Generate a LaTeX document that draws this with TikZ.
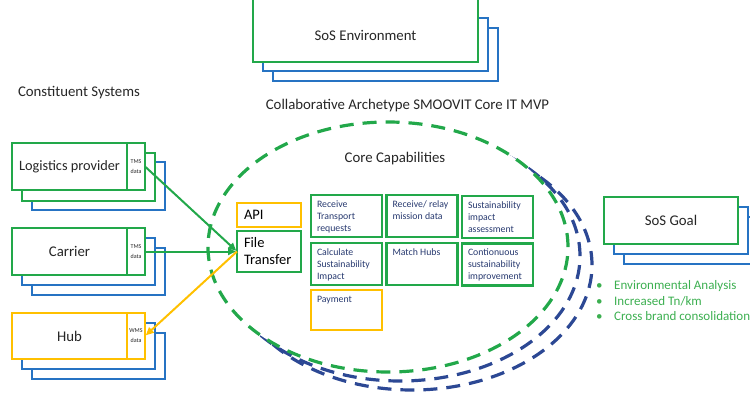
\documentclass[tikz,border=0pt]{standalone}
\usepackage{fontspec}
\setmainfont{Carlito}
\usetikzlibrary{arrows.meta}

\definecolor{sgreen}{RGB}{34,168,74}
\definecolor{sblue}{RGB}{38,115,195}
\definecolor{snavy}{RGB}{44,72,148}
\definecolor{syellow}{RGB}{255,192,0}
\definecolor{stext}{RGB}{38,38,38}
\definecolor{ctext}{RGB}{40,58,112}
\definecolor{bgreen}{RGB}{60,175,80}

% capability cell: fixed-size box, text set from the top left
\newcommand{\capcell}[2]{\parbox[c][#1][t]{71pt}{\fontsize{9.8}{12}\selectfont\parindent=0pt\leftskip=6pt\rightskip=0pt plus 1fil\rule{0pt}{12pt}#2}}

\begin{document}
\begin{tikzpicture}[x=1pt,y=-1pt,
  frame/.style={draw, fill=white, line width=2.6pt, inner sep=0pt, outer sep=0pt,
    anchor=north west, text=stext},
  bigtext/.style={font=\fontsize{14.8}{17}\selectfont},
  datatext/.style={font=\fontsize{6}{10}\selectfont, align=center},
  title/.style={inner sep=0pt, text=stext, font=\fontsize{14.8}{17}\selectfont},
  ringline/.style={line width=3.2pt, dash pattern=on 14pt off 9pt},
  flow/.style={line width=2pt, -{Triangle[length=8pt,width=7pt]}, shorten >=1pt},
  capbox/.style={draw, line width=2.4pt, inner sep=0pt, outer sep=0pt, anchor=north west,
    text=ctext},
  goaltext/.style={inner sep=0pt, anchor=base west, text=bgreen,
    font=\fontsize{13}{15}\selectfont},
]
\useasboundingbox (0,0) rectangle (750,392);
\clip (0,0) rectangle (750,392);

% ---------- SoS Environment stack ----------
\node[frame, draw=sblue, minimum width=225, minimum height=53] (env3) at (273,28) {};
\node[frame, draw=sblue, minimum width=225, minimum height=53] (env2) at (263,18) {};
\node[frame, draw=sgreen, minimum width=225, minimum height=66] (env) at (253,-4) {};
\node[title] (envt) at (365.5,35) {SoS Environment};

% ---------- SoS Goal stack ----------
\node[frame, draw=sblue, minimum width=134, minimum height=47] (goal3) at (624,217) {};
\node[frame, draw=sblue, minimum width=134, minimum height=47] (goal2) at (614,207) {};
\node[frame, draw=sgreen, minimum width=134, minimum height=47, bigtext] (goal) at (604,197) {SoS Goal};

% goal bullets
\node[goaltext] (g1) at (596,289) {\makebox[18pt][l]{\textbullet}Environmental Analysis};
\node[goaltext] (g2) at (596,305) {\makebox[18pt][l]{\textbullet}Increased Tn/km};
\node[goaltext] (g3) at (596,320.5) {\makebox[18pt][l]{\textbullet}Cross brand consolidation};

% ---------- Constituent systems ----------
\node[title] (cs) at (79,93) {Constituent Systems};

% Logistics provider
\node[frame, draw=sblue, minimum width=133, minimum height=48] (lp3) at (32,162) {};
\node[frame, draw=sgreen, minimum width=133, minimum height=48] (lp2) at (22,153) {};
\node[frame, draw=sgreen, minimum width=115, minimum height=47, font=\fontsize{14.3}{17}\selectfont] (lp) at (12,143) {Logistics provider};
\node[frame, draw=sgreen, minimum width=18, minimum height=47, datatext] (lpd) at (127,143) {TMS\\data};

% Carrier
\node[frame, draw=sblue, minimum width=133, minimum height=47] (ca3) at (32,248) {};
\node[frame, draw=sblue, minimum width=133, minimum height=47] (ca2) at (22,238) {};
\node[frame, draw=sgreen, minimum width=115, minimum height=47, bigtext] (ca) at (12,228) {Carrier};
\node[frame, draw=sgreen, minimum width=18, minimum height=47, datatext] (cad) at (127,228) {TMS\\data};

% Hub
\node[frame, draw=sblue, minimum width=133, minimum height=46] (hub3) at (32,333) {};
\node[frame, draw=sblue, minimum width=133, minimum height=46] (hub2) at (22,323) {};
\node[frame, draw=syellow, minimum width=115, minimum height=46, bigtext] (hub) at (12,313) {Hub};
\node[frame, draw=syellow, minimum width=18, minimum height=46, datatext] (hubd) at (127,313) {WMS\\data};

% ---------- Archetype rings ----------
\draw[ringline, snavy] (412,265) ellipse [x radius=180pt, y radius=125pt];
\draw[ringline, snavy] (400,256) ellipse [x radius=180pt, y radius=125pt];
\draw[ringline, sgreen, fill=white] (388,247) ellipse [x radius=180pt, y radius=125pt];

\node[title] (arch) at (407.5,106) {Collaborative Archetype SMOOVIT Core IT MVP};
\node[title] (core) at (395,159) {Core Capabilities};

% interfaces
\node[frame, draw=syellow, minimum height=24, text width=50pt, inner xsep=7pt,
  align=left, font=\fontsize{14.5}{17}\selectfont, text=black] (api) at (237,203) {API};
\node[frame, draw=sgreen, minimum height=41, text width=50pt, inner xsep=7pt,
  align=left, font=\fontsize{14.5}{17}\selectfont, text=black] (ft) at (237,231) {File\\Transfer};

% core capability cells
\node[capbox, draw=sgreen] (c1) at (311,195) {\capcell{42pt}{Receive\\Transport\\requests}};
\node[capbox, draw=sgreen] (c2) at (386.5,195) {\capcell{42pt}{Receive/ relay\\mission data}};
\node[capbox, draw=sgreen] (c3) at (462,196) {\capcell{42pt}{Sustainability\\impact\\assessment}};
\node[capbox, draw=sgreen] (c4) at (311,243) {\capcell{42pt}{Calculate\\Sustainability\\Impact}};
\node[capbox, draw=sgreen] (c5) at (386.5,243) {\capcell{42pt}{Match Hubs}};
\node[capbox, draw=sgreen] (c6) at (462,243.5) {\capcell{42pt}{Contionuous\\sustainability\\improvement}};
\node[capbox, draw=syellow] (pay) at (311,290) {\capcell{40pt}{Payment}};

% ---------- data flows ----------
\draw[flow, sgreen] (lpd.east) -- (ft.west);
\draw[flow, sgreen] (cad.east) -- (ft.west);
\draw[flow, syellow] (ft.west) -- (hubd.east);

\end{tikzpicture}
\end{document}
